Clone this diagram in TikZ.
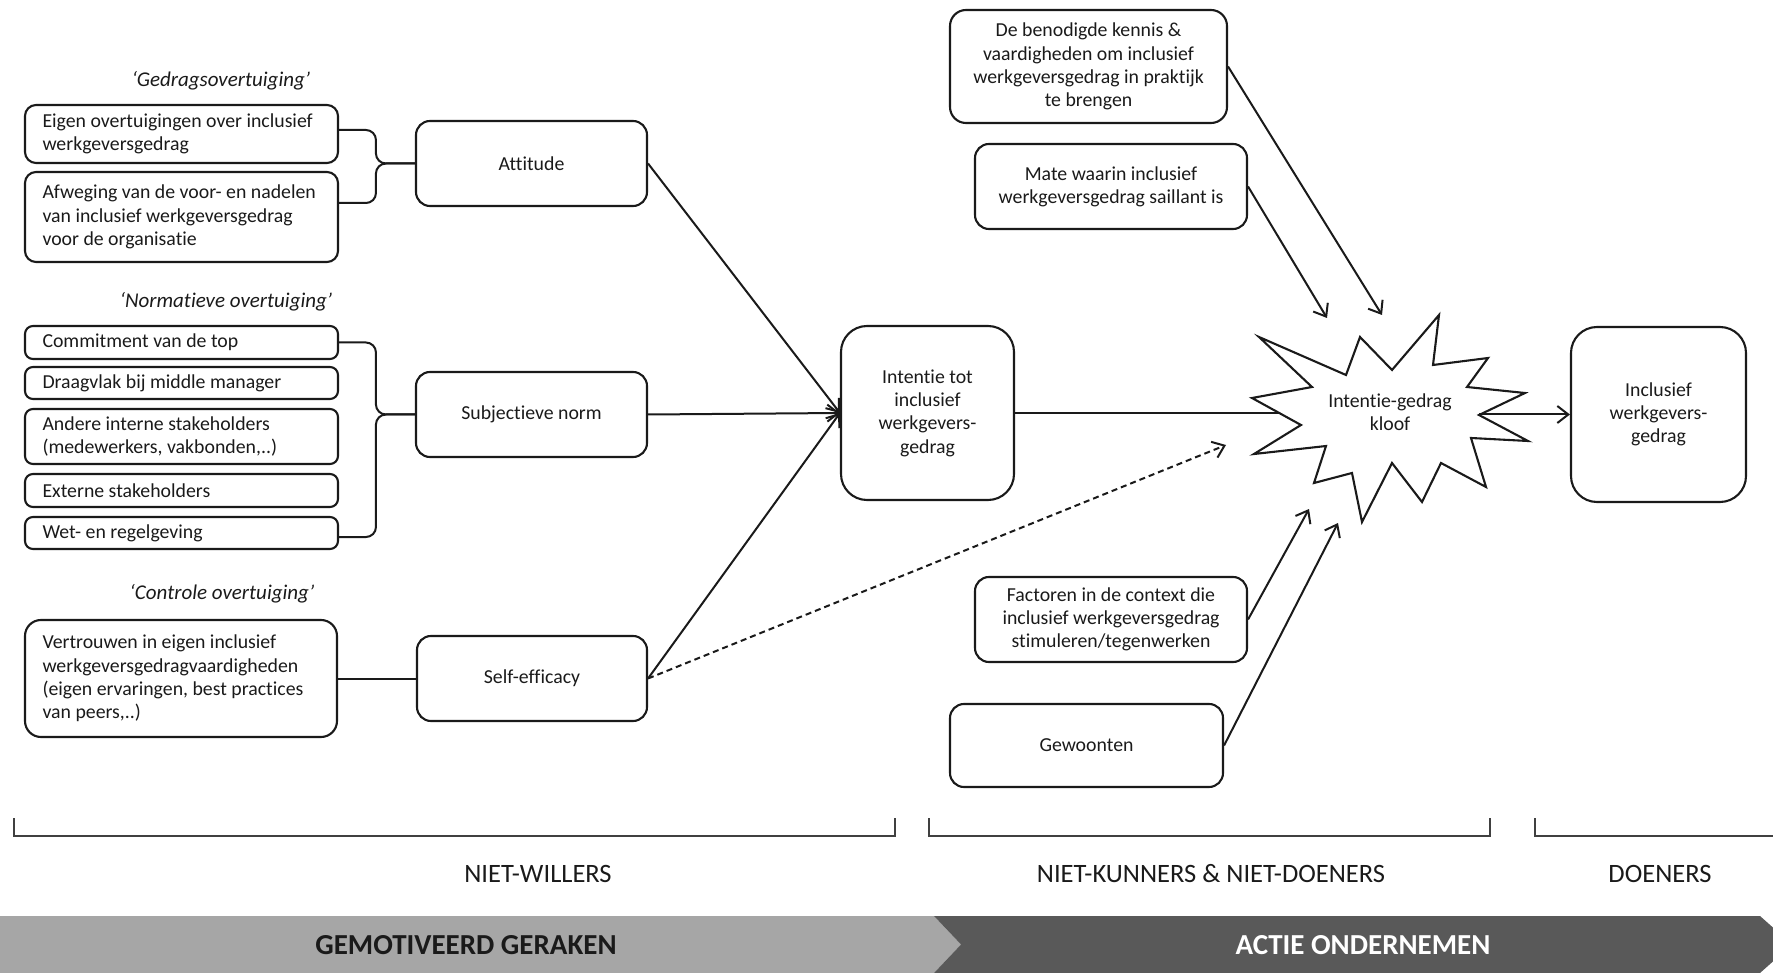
\documentclass[tikz,border=0pt]{standalone}
\usepackage{fontspec}
\setmainfont{Carlito}[Ligatures=NoCommon]
\usetikzlibrary{arrows.meta,calc}
\definecolor{bandlight}{HTML}{A6A6A6}
\definecolor{banddark}{HTML}{595959}
\definecolor{inkc}{HTML}{1A1A1A}
\begin{document}
\begin{tikzpicture}[x=1pt,y=-1pt,
  box/.style={draw=inkc, line width=2.1pt, rounded corners=11pt, inner sep=0pt,
    font=\fontsize{19.8}{23.3}\selectfont, text=inkc, align=center},
  lbox/.style={box, align=flush left, inner xsep=17.5pt, text width=278pt},
  conn/.style={draw=inkc, line width=2pt},
  arr/.style={conn, -{Straight Barb[length=11pt,width=17pt]}},
  head/.style={font=\fontsize{21}{24}\itshape, text=inkc},
  grp/.style={font=\fontsize{26.5}{30}\selectfont, text=inkc},
  band/.style={font=\fontsize{29}{32}\bfseries},
  brk/.style={draw=black!75, line width=1.7pt}
]
\useasboundingbox (0,0) rectangle (1773,973);
\clip (0,0) rectangle (1773,973);

% headings
\node[head] (h1) at (221,81) {‘Gedragsovertuiging’};
\node[head] (h2) at (226,302) {‘Normatieve overtuiging’};
\node[head] (h3) at (222,594) {‘Controle overtuiging’};

% left column boxes
\node[lbox, minimum height=58pt] (b1) at (181.5,134) {Eigen overtuigingen over inclusief\\werkgeversgedrag};
\node[lbox, minimum height=90pt] (b2) at (181.5,217) {Afweging van de voor- en nadelen\\van inclusief werkgeversgedrag\\voor de organisatie};

\node[lbox, minimum height=33pt, rounded corners=8pt] (n1) at (181.5,342.5) {Commitment van de top};
\node[lbox, minimum height=32pt, rounded corners=8pt] (n2) at (181.5,383) {Draagvlak bij middle manager};
\node[lbox, minimum height=55pt, rounded corners=8pt] (n3) at (181.5,436.5) {Andere interne stakeholders\\(medewerkers, vakbonden,..)};
\node[lbox, minimum height=33pt, rounded corners=8pt] (n4) at (181.5,490.5) {Externe stakeholders};
\node[lbox, minimum height=32pt, rounded corners=8pt] (n5) at (181.5,533) {Wet- en regelgeving};

\node[lbox, text width=277pt, minimum height=117pt, rounded corners=16pt] (c1) at (181,678.5) {Vertrouwen in eigen inclusief\\werkgeversgedragvaardigheden\\(eigen ervaringen, best practices\\van peers,..)};

% middle column
\node[box, minimum width=231pt, minimum height=85pt, rounded corners=14pt] (att) at (531.5,163.5) {Attitude};
\node[box, minimum width=231pt, minimum height=85pt, rounded corners=14pt] (sn) at (531.5,414.5) {Subjectieve norm};
\node[box, minimum width=230pt, minimum height=85pt, rounded corners=14pt] (se) at (532,678.5) {Self-efficacy};

\node[box, minimum width=173pt, minimum height=174pt, rounded corners=26pt] (it) at (927.5,413) {Intentie tot\\inclusief\\werkgevers-\\gedrag};
\node[box, minimum width=175pt, minimum height=175pt, rounded corners=26pt] (inc) at (1658.5,414.5) {Inclusief\\werkgevers-\\gedrag};

% right factor boxes
\node[box, minimum width=277pt, minimum height=113pt, rounded corners=16pt] (k1) at (1088.5,66.5) {De benodigde kennis \&\\vaardigheden om inclusief\\werkgeversgedrag in praktijk\\te brengen};
\node[box, minimum width=272pt, minimum height=85pt, rounded corners=14pt] (k2) at (1111,186.5) {Mate waarin inclusief\\werkgeversgedrag saillant is};
\node[box, minimum width=272pt, minimum height=85pt, rounded corners=14pt] (f1) at (1111,619.5) {Factoren in de context die\\inclusief werkgeversgedrag\\stimuleren/tegenwerken};
\node[box, minimum width=273pt, minimum height=83pt, rounded corners=14pt] (g1) at (1086.5,745.5) {Gewoonten};

% starburst
\draw[conn, line width=2.1pt, line join=miter] (1439,315) -- (1433,365) -- (1488,358) -- (1467,387) -- (1525,393)
  -- (1479,415) -- (1528,441) -- (1471,438) -- (1486,487) -- (1441,463) -- (1422,502)
  -- (1392,463) -- (1362,522) -- (1352,473) -- (1314,483) -- (1326,446) -- (1254,454)
  -- (1301,425) -- (1252,398) -- (1312,387) -- (1259,337) -- (1346,375) -- (1360,337)
  -- (1392,370) -- cycle;
\node[font=\fontsize{19.8}{23.3}\selectfont, text=inkc, align=center] (kl) at (1390,412) {Intentie-gedrag\\kloof};
\coordinate (kin) at (1279,413);
\coordinate (kout) at (1479,414.5);

% braces
\coordinate (tipA) at ($(att.west)+(-39,0)$);
\coordinate (tipB) at ($(sn.west)+(-39,0)$);
\draw[conn, rounded corners=10pt] ([yshift=4pt]b1.east) -| (tipA) -- (att.west);
\draw[conn, rounded corners=10pt] ([yshift=14pt]b2.east) -| (tipA) -- (att.west);
\draw[conn, rounded corners=10pt] (n1.east) -| (tipB) -- (sn.west);
\draw[conn, rounded corners=10pt] ([yshift=-4pt]n5.east) -| (tipB) -- (sn.west);
\draw[conn] (c1.east) -- (se.west);

% arrows to intention
\draw[arr] (att.east) -- (it.west);
\draw[arr] (sn.east) -- (it.west);
\draw[arr] (se.east) -- (it.west);
\coordinate (td) at (1226,445);
\draw[arr, dash pattern=on 6pt off 4pt] (se.east) -- (td);
\draw[conn] (it.east) -- (kin);
\draw[arr] (kout) -- (inc.west);

% factor arrows
\coordinate (t1) at (1382,315);
\coordinate (t2) at (1327,318);
\coordinate (t3) at (1309,509);
\coordinate (t4) at (1338,523);
\draw[arr] (k1.east) -- (t1);
\draw[arr] (k2.east) -- (t2);
\draw[arr] (f1.east) -- (t3);
\draw[arr] (g1.east) -- (t4);

% brackets
\draw[brk] (14,818) -- (14,836) -- (895,836) -- (895,818);
\draw[brk] (929,818) -- (929,836) -- (1490,836) -- (1490,818);
\draw[brk] (1535,818) -- (1535,836) -- (1790,836);
\node[grp] (l1) at (538,874) {NIET-WILLERS};
\node[grp] (l2) at (1211,874) {NIET-KUNNERS \& NIET-DOENERS};
\node[grp] (l3) at (1660,874) {DOENERS};

% bottom band
\fill[bandlight] (0,916) -- (934,916) -- (961,944.5) -- (934,973) -- (0,973) -- cycle;
\fill[banddark] (934,916) -- (1760,916) -- (1792,944.5) -- (1760,973) -- (934,973) -- (961,944.5) -- cycle;
\node[band, text=inkc] (p1) at (466,945) {GEMOTIVEERD GERAKEN};
\node[band, text=white] (p2) at (1363,945) {ACTIE ONDERNEMEN};
\end{tikzpicture}
\end{document}
